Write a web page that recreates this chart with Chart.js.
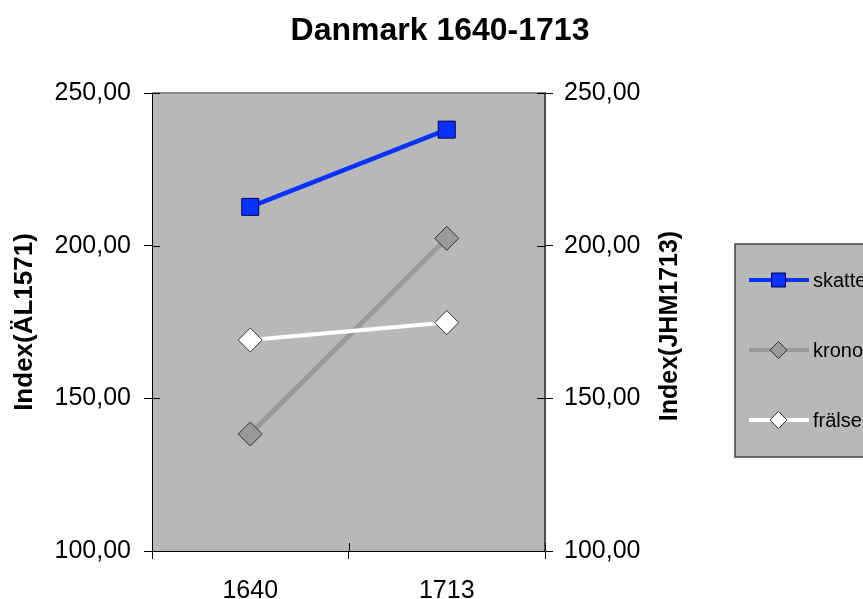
<!DOCTYPE html>
<html><head><meta charset="utf-8">
<script src="https://cdn.jsdelivr.net/npm/chart.js@4/dist/chart.umd.min.js"></script>
<style>html,body{margin:0;padding:0;background:#fff}#wrap{width:863px;height:599px;position:relative}</style>
</head><body><div id="wrap"><canvas id="c" width="863" height="599"></canvas></div>
<script>
const chartTitle = 'Danmark 1640-1713';
const categories = ['1640', '1713'];
const seriesNames = ['skatte', 'krono', 'frälse'];
const skatte = [212.7, 238.0];
const krono = [138.3, 202.4];
const fralse = [169.1, 174.8];
const yTicks = [100, 150, 200, 250];
const yTickLabels = ['100,00', '150,00', '200,00', '250,00'];
const leftAxisTitle = 'Index(ÄL1571)';
const rightAxisTitle = 'Index(JHM1713)';

const FAM = "'Liberation Sans', Arial, Helvetica, sans-serif";
Chart.defaults.font.family = FAM;
Chart.defaults.color = '#000';

function tickLabel(v) {
  const i = yTicks.indexOf(v);
  return i >= 0 ? yTickLabels[i] : '';
}

const plotBg = {
  id: 'plotBg',
  beforeDraw(chart) {
    const {ctx, chartArea: a} = chart;
    ctx.save();
    ctx.fillStyle = '#B8B8B8';
    ctx.fillRect(a.left, a.top, a.right - a.left, a.bottom - a.top);
    ctx.restore();
  },
  beforeDatasetsDraw(chart) {
    const {ctx, chartArea: a, scales} = chart;
    ctx.save();
    ctx.strokeStyle = '#8a8a8a';
    ctx.lineWidth = 2;
    ctx.beginPath(); ctx.moveTo(a.left, a.top); ctx.lineTo(a.right, a.top); ctx.stroke();
    ctx.strokeStyle = '#000';
    ctx.lineWidth = 1;
    yTicks.forEach(v => {
      const py = Math.round(scales.y.getPixelForValue(v)) + 0.5;
      ctx.beginPath(); ctx.moveTo(a.left, py); ctx.lineTo(a.left + 8, py); ctx.stroke();
      const py2 = Math.round(scales.y2.getPixelForValue(v)) + 0.5;
      ctx.beginPath(); ctx.moveTo(a.right - 8, py2); ctx.lineTo(a.right, py2); ctx.stroke();
    });
    for (let i = 0; i <= categories.length; i++) {
      const px = Math.round(scales.x.getPixelForValue(i - 0.5)) + 0.5;
      ctx.beginPath(); ctx.moveTo(px, a.bottom - 8); ctx.lineTo(px, a.bottom); ctx.stroke();
    }
    ctx.restore();
  }
};

function drawMarker(ctx, style, x, y, r, fill, stroke) {
  ctx.beginPath();
  if (style === 'rect') {
    ctx.rect(x - r, y - r, 2 * r, 2 * r);
  } else {
    ctx.moveTo(x - r, y); ctx.lineTo(x, y - r); ctx.lineTo(x + r, y); ctx.lineTo(x, y + r); ctx.closePath();
  }
  ctx.fillStyle = fill; ctx.fill();
  ctx.strokeStyle = stroke; ctx.lineWidth = 1; ctx.stroke();
}

const boxLegend = {
  id: 'boxLegend',
  afterDraw(chart) {
    const ctx = chart.ctx;
    const a = chart.chartArea;
    ctx.save();
    // right axis title, reading bottom-to-top like the left one
    ctx.fillStyle = '#000';
    ctx.font = 'bold 25px ' + FAM;
    ctx.textAlign = 'center';
    ctx.textBaseline = 'alphabetic';
    ctx.translate(677, (a.top + a.bottom) / 2 + 4);
    ctx.rotate(-Math.PI / 2);
    ctx.fillText(rightAxisTitle, 0, 0);
    ctx.setTransform(1, 0, 0, 1, 0, 0);

    ctx.fillStyle = '#B8B8B8';
    ctx.fillRect(735, 244, 140, 213);
    ctx.strokeStyle = '#404040';
    ctx.lineWidth = 1.5;
    ctx.strokeRect(735, 244, 140, 213);
    chart.data.datasets.forEach((ds, i) => {
      const cy = 280 + i * 70;
      ctx.strokeStyle = ds.borderColor;
      ctx.lineWidth = 4;
      ctx.beginPath(); ctx.moveTo(749, cy); ctx.lineTo(809, cy); ctx.stroke();
      if (ds.pointStyle === 'rect') drawMarker(ctx, 'rect', 778.5, cy, 7, ds.pointBackgroundColor, ds.pointBorderColor);
      else drawMarker(ctx, 'rectRot', 778.5, cy, 8.5, ds.pointBackgroundColor, ds.pointBorderColor);
      ctx.fillStyle = '#000';
      ctx.font = '20px ' + FAM;
      ctx.textBaseline = 'middle';
      ctx.textAlign = 'left';
      ctx.fillText(ds.label, 813, cy + 1);
    });
    ctx.restore();
  }
};

new Chart(document.getElementById('c'), {
  type: 'line',
  data: {
    labels: categories,
    datasets: [
      { label: seriesNames[0], data: skatte, order: 0, borderColor: '#0A32FF', borderWidth: 4.5,
        pointStyle: 'rect', pointRadius: 12, pointHoverRadius: 12, pointBackgroundColor: '#0A32FF',
        pointBorderColor: '#000060', pointBorderWidth: 1 },
      { label: seriesNames[1], data: krono, order: 2, borderColor: '#999999', borderWidth: 5,
        pointStyle: 'rectRot', pointRadius: 12, pointHoverRadius: 12, pointBackgroundColor: '#999999',
        pointBorderColor: '#333333', pointBorderWidth: 1 },
      { label: seriesNames[2], data: fralse, order: 1, borderColor: '#FFFFFF', borderWidth: 4,
        pointStyle: 'rectRot', pointRadius: 12, pointHoverRadius: 12, pointBackgroundColor: '#FFFFFF',
        pointBorderColor: '#333333', pointBorderWidth: 1 }
    ]
  },
  options: {
    responsive: false,
    devicePixelRatio: 1,
    animation: false,
    events: [],
    layout: { padding: { left: 0, right: -17, top: 0, bottom: 0 } },
    plugins: {
      legend: { display: false },
      tooltip: { enabled: false },
      title: { display: true, text: chartTitle, color: '#000',
        font: { size: 32, weight: 'bold', family: FAM }, padding: { top: 12, bottom: 42.6 } }
    },
    scales: {
      x: {
        type: 'category', offset: true,
        grid: { offset: true, drawOnChartArea: false, drawTicks: true, tickLength: 8, color: '#000', tickWidth: 1 },
        border: { color: '#000', width: 1 },
        ticks: { font: { size: 25 }, color: '#000', padding: 17, maxRotation: 0 },
        afterFit(s) { s.height = 48; }
      },
      y: {
        position: 'left', min: 100, max: 250,
        afterBuildTicks(s) { s.ticks = yTicks.map(v => ({ value: v })); },
        ticks: { font: { size: 25 }, color: '#000', padding: 13, callback: tickLabel },
        grid: { drawOnChartArea: false, tickLength: 8, color: '#000' },
        border: { color: '#000', width: 1 },
        title: { display: true, text: leftAxisTitle, color: '#000', font: { size: 26, weight: 'bold' }, padding: { top: 9, bottom: 0 } },
        afterFit(s) { s.width = 152; }
      },
      y2: {
        position: 'right', min: 100, max: 250,
        afterBuildTicks(s) { s.ticks = yTicks.map(v => ({ value: v })); },
        ticks: { font: { size: 25 }, color: '#000', padding: 11, callback: tickLabel },
        grid: { drawOnChartArea: false, tickLength: 8, color: '#000' },
        border: { color: '#4d4d4d', width: 2 },
        afterFit(s) { s.width = 335; }
      }
    }
  },
  plugins: [plotBg, boxLegend]
});
</script>
</body></html>
